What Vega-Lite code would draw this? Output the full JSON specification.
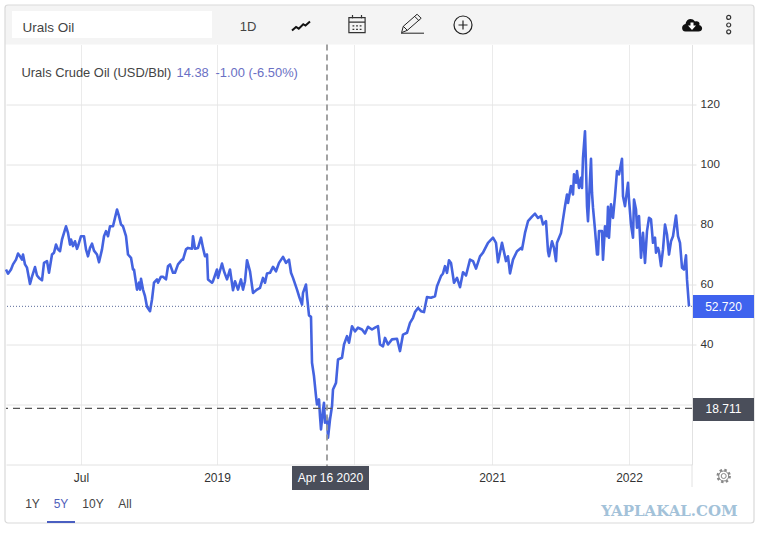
{
"$schema":"https://vega.github.io/schema/vega-lite/v6.json",
"autosize":"none","width":686,"height":420,
"padding":{"left":6,"top":44.5,"right":72,"bottom":75.5},
"background":"white",
"data":{"values":[{"item":"chart furniture"}]},
"config":{"view":{"stroke":null},"text":{"font":"Liberation Sans"},"axis":{"labelFont":"Liberation Sans"}},
"layer":[
{"mark":{"type":"rect","fill":"#f4f4f4"},"encoding":{"x":{"value":-1},"x2":{"value":748},"y":{"value":-39.5},"y2":{"value":0}}},
{"mark":{"type":"rect","fill":"white"},"encoding":{"x":{"value":6},"x2":{"value":206},"y":{"value":-33.5},"y2":{"value":-6.5}}},
{"mark":{"type":"rect","fill":"transparent","stroke":"#d9d9d9","strokeWidth":1.2,"cornerRadius":3},"encoding":{"x":{"value":-1},"x2":{"value":748},"y":{"value":-39.5},"y2":{"value":478.5}}},
{"mark":{"type":"rule","stroke":"#e2e2e2"},"encoding":{"x":{"value":686},"y":{"value":420},"y2":{"value":442.5}}},
{"mark":{"type":"text","text":"Urals Oil","fontSize":13.5,"align":"left","baseline":"middle","fill":"#444"},"encoding":{"x":{"value":16.5},"y":{"value":-17}}},
{"mark":{"type":"text","text":"1D","fontSize":13,"align":"center","baseline":"middle","fill":"#444"},"encoding":{"x":{"value":242},"y":{"value":-18}}},
{"mark":{"type":"point","shape":"M-1,0.5 L-0.55,0.1 L-0.25,0.3 L0.25,-0.2 L0.5,-0.05 L1,-0.5","filled":false,"stroke":"#111","strokeWidth":2,"size":324,"opacity":1},"encoding":{"x":{"value":295},"y":{"value":-18.5}}},
{"mark":{"type":"point","shape":"M-0.9,-0.7 H0.9 V0.95 H-0.9 Z M-0.9,-0.2 H0.9 M-0.5,-1 V-0.6 M0.5,-1 V-0.6 M-0.5,0.2 h0.2 M-0.1,0.2 h0.2 M0.3,0.2 h0.2 M-0.5,0.6 h0.2 M-0.1,0.6 h0.2 M0.3,0.6 h0.2","filled":false,"stroke":"#333","strokeWidth":1.2,"size":324,"opacity":1},"encoding":{"x":{"value":351},"y":{"value":-20.5}}},
{"mark":{"type":"point","shape":"M-1,0.8 H1 M-0.95,0.75 L-0.8,0.2 L0.4,-0.85 L0.75,-0.5 L-0.45,0.55 Z M-0.8,0.2 L-0.45,0.55 M0.2,-0.65 L0.55,-0.3","filled":false,"stroke":"#222","strokeWidth":1,"size":529,"opacity":1},"encoding":{"x":{"value":406.5},"y":{"value":-20.5}}},
{"mark":{"type":"point","shape":"circle","filled":false,"stroke":"#222","strokeWidth":1.2,"size":324,"opacity":1},"encoding":{"x":{"value":457},"y":{"value":-19.5}}},
{"mark":{"type":"point","shape":"M-0.5,0 H0.5 M0,-0.5 V0.5","filled":false,"stroke":"#222","strokeWidth":1.2,"size":324,"opacity":1},"encoding":{"x":{"value":457},"y":{"value":-19.5}}},
{"mark":{"type":"point","shape":"M-0.65,0.65 C-1.1,0.65 -1.1,-0.05 -0.65,-0.1 C-0.6,-0.6 0,-0.8 0.3,-0.35 C0.7,-0.5 0.85,-0.1 0.7,0 C1.15,0.1 1.1,0.65 0.65,0.65 Z","filled":true,"fill":"#111","size":400,"opacity":1},"encoding":{"x":{"value":686},"y":{"value":-19.5}}},
{"mark":{"type":"point","shape":"M-0.15,-0.25 H0.15 V0.05 H0.4 L0,0.5 L-0.4,0.05 H-0.15 Z","filled":true,"fill":"white","size":400,"opacity":1},"encoding":{"x":{"value":686},"y":{"value":-19.5}}},
{"mark":{"type":"point","shape":"M-0.25,-0.95 a0.25,0.25 0 1,0 0.5,0 a0.25,0.25 0 1,0 -0.5,0 Z M-0.25,0 a0.25,0.25 0 1,0 0.5,0 a0.25,0.25 0 1,0 -0.5,0 Z M-0.25,0.85 a0.25,0.25 0 1,0 0.5,0 a0.25,0.25 0 1,0 -0.5,0 Z","filled":false,"stroke":"#333","strokeWidth":1.2,"size":256,"opacity":1},"encoding":{"x":{"value":722.7},"y":{"value":-19.5}}},
{"mark":{"type":"text","text":"Urals Crude Oil (USD/Bbl)","fontSize":12.9,"align":"left","baseline":"middle","fill":"#444"},"encoding":{"x":{"value":15.5},"y":{"value":28.3}}},
{"mark":{"type":"text","text":"14.38","fontSize":12.9,"align":"left","baseline":"middle","fill":"#6a70c4"},"encoding":{"x":{"value":170.5},"y":{"value":28.3}}},
{"mark":{"type":"text","text":"-1.00 (-6.50%)","fontSize":12.9,"align":"left","baseline":"middle","fill":"#6a70c4"},"encoding":{"x":{"value":209.5},"y":{"value":28.3}}},
{"data":{"values":[
{"session":6,"price":65},{"session":8,"price":63.6},{"session":11,"price":65},{"session":13,"price":66.7},{"session":16,"price":68.3},{"session":18,"price":70.3},{"session":20,"price":69.4},{"session":22,"price":68.3},{"session":23,"price":70},{"session":25,"price":66.7},{"session":27,"price":65.6},{"session":30,"price":60.2},{"session":32,"price":62.6},{"session":35,"price":65.8},{"session":37,"price":63},{"session":39,"price":62.2},{"session":42,"price":61.4},{"session":44,"price":67.2},{"session":47,"price":67.8},{"session":49,"price":63.9},{"session":52,"price":70},{"session":54,"price":70.6},{"session":56,"price":73.3},{"session":58,"price":71.7},{"session":60,"price":71.1},{"session":62,"price":75},{"session":64,"price":77.2},{"session":66,"price":79.4},{"session":68,"price":77.2},{"session":70,"price":73.3},{"session":71,"price":75},{"session":73,"price":72.8},{"session":75,"price":74.4},{"session":77,"price":71.9},{"session":78,"price":72.8},{"session":81,"price":76.1},{"session":84,"price":76.1},{"session":86,"price":71.7},{"session":88,"price":69.4},{"session":90,"price":72.2},{"session":92,"price":73.6},{"session":94,"price":71.3},{"session":97,"price":70},{"session":99,"price":67.4},{"session":102,"price":71.7},{"session":104,"price":76.1},{"session":106,"price":77.8},{"session":108,"price":76.1},{"session":110,"price":79.4},{"session":113,"price":79.4},{"session":115,"price":82.2},{"session":117,"price":85},{"session":119,"price":82.8},{"session":121,"price":80},{"session":123,"price":79.4},{"session":126,"price":76.1},{"session":128,"price":70},{"session":131,"price":68.9},{"session":133,"price":65},{"session":134,"price":65},{"session":137,"price":58.3},{"session":139,"price":60.6},{"session":140,"price":58.3},{"session":141,"price":61.9},{"session":143,"price":58.3},{"session":145,"price":56.1},{"session":147,"price":52.6},{"session":150,"price":51.1},{"session":152,"price":55},{"session":154,"price":60.6},{"session":157,"price":61.7},{"session":158,"price":60.6},{"session":161,"price":62.6},{"session":163,"price":62.6},{"session":166,"price":61.7},{"session":168,"price":66.1},{"session":170,"price":66.7},{"session":173,"price":63.9},{"session":175,"price":63.9},{"session":178,"price":66.7},{"session":182,"price":68.3},{"session":183,"price":68.3},{"session":186,"price":71.7},{"session":188,"price":72.2},{"session":192,"price":71.9},{"session":193,"price":76.1},{"session":195,"price":71.9},{"session":198,"price":72.2},{"session":201,"price":75.6},{"session":203,"price":72.2},{"session":205,"price":69.4},{"session":207,"price":70},{"session":208,"price":61.7},{"session":212,"price":60.6},{"session":213,"price":61.1},{"session":217,"price":65},{"session":218,"price":62.2},{"session":222,"price":67},{"session":224,"price":64.4},{"session":227,"price":61.7},{"session":230,"price":65},
{"session":233,"price":58.1},{"session":235,"price":61.1},{"session":238,"price":58.3},{"session":241,"price":61.7},{"session":243,"price":58.3},{"session":245,"price":61.1},{"session":247,"price":68.1},{"session":250,"price":64.4},{"session":253,"price":57.2},{"session":257,"price":58.3},{"session":260,"price":58.9},{"session":263,"price":62.2},{"session":265,"price":60.6},{"session":267,"price":63.7},{"session":270,"price":63.9},{"session":273,"price":65.9},{"session":276,"price":64.4},{"session":279,"price":67.2},{"session":283,"price":69.2},{"session":286,"price":67.2},{"session":289,"price":68.3},{"session":291,"price":63.9},{"session":293,"price":62.2},{"session":297,"price":58.3},{"session":299,"price":56.1},{"session":302,"price":53.3},{"session":303,"price":57.2},{"session":306,"price":60},{"session":307,"price":56.1},{"session":309,"price":49.7},{"session":311,"price":49.2},{"session":312,"price":33.9},{"session":314,"price":29.4},{"session":316,"price":22.8},{"session":317,"price":20},{"session":319,"price":21.7},{"session":320,"price":16.1},{"session":321,"price":11.7},{"session":323,"price":18.3},{"session":324,"price":20.6},{"session":325,"price":13.9},{"session":327,"price":15.6},{"session":328,"price":8.9},{"session":330,"price":15},{"session":332,"price":19.4},{"session":333,"price":25},{"session":336,"price":27.2},{"session":338,"price":35},{"session":342,"price":35.6},{"session":344,"price":40},{"session":347,"price":42.8},{"session":349,"price":40.6},{"session":352,"price":46.1},{"session":355,"price":44.4},{"session":358,"price":45.6},{"session":362,"price":45},{"session":365,"price":43.7},{"session":368,"price":45.9},{"session":372,"price":45},{"session":375,"price":45.6},{"session":378,"price":46.1},{"session":380,"price":40},{"session":383,"price":39.4},{"session":385,"price":42.2},{"session":388,"price":40},{"session":392,"price":41.7},{"session":397,"price":41.9},{"session":400,"price":37.8},{"session":403,"price":43.3},{"session":407,"price":43.9},{"session":410,"price":47.2},
{"session":413,"price":48.9},{"session":415,"price":50.8},{"session":418,"price":52.2},{"session":421,"price":51.1},{"session":424,"price":50.8},{"session":427,"price":55.8},{"session":431,"price":55.6},{"session":435,"price":56.1},{"session":437,"price":59.4},{"session":441,"price":62.8},{"session":443,"price":63.7},{"session":445,"price":66.1},{"session":447,"price":63.9},{"session":449,"price":68.1},{"session":451,"price":67.2},{"session":454,"price":60.6},{"session":457,"price":62.2},{"session":460,"price":59.1},{"session":463,"price":64.1},{"session":466,"price":63},{"session":470,"price":68.3},{"session":473,"price":67.8},{"session":476,"price":65.3},{"session":480,"price":69.4},{"session":483,"price":70.6},{"session":488,"price":73.9},{"session":493,"price":75.6},{"session":496,"price":73.9},{"session":498,"price":67.4},{"session":502,"price":73.9},{"session":506,"price":67.8},{"session":508,"price":69.4},{"session":510,"price":63.7},{"session":513,"price":68.3},{"session":517,"price":71.1},{"session":521,"price":72.2},{"session":522,"price":71.7},{"session":525,"price":77.2},{"session":528,"price":81.1},{"session":532,"price":82.6},{"session":535,"price":83.6},{"session":538,"price":82.2},{"session":541,"price":82.8},{"session":543,"price":80},{"session":546,"price":81.1},{"session":548,"price":71.1},{"session":549,"price":69.4},{"session":552,"price":74.4},{"session":554,"price":72.2},{"session":556,"price":67.8},{"session":557,"price":73.9},{"session":561,"price":77.2},{"session":563,"price":81.7},{"session":565,"price":86.1},
{"session":567,"price":90},{"session":568,"price":87.2},{"session":571,"price":92.8},{"session":573,"price":90},{"session":574,"price":96.7},{"session":576,"price":93.9},{"session":577,"price":97.8},{"session":579,"price":92.2},{"session":581,"price":95.6},{"session":582,"price":92.2},{"session":583,"price":102.2},{"session":585,"price":111.1},{"session":586,"price":99.4},{"session":587,"price":86.1},{"session":588,"price":81.1},{"session":591,"price":101.9},{"session":592,"price":90.6},{"session":593,"price":85.6},{"session":595,"price":78.3},{"session":597,"price":70},{"session":598,"price":70},{"session":599,"price":77.8},{"session":602,"price":77.8},{"session":603,"price":68.3},{"session":605,"price":79.4},{"session":607,"price":76.1},{"session":608,"price":85.9},{"session":609,"price":75.6},{"session":611,"price":86.7},{"session":613,"price":82.2},{"session":615,"price":89.4},{"session":617,"price":97.8},{"session":619,"price":96.7},{"session":622,"price":101.9},{"session":623,"price":89.4},{"session":625,"price":86.1},{"session":628,"price":93.9},{"session":629,"price":88.3},{"session":631,"price":80},{"session":633,"price":75.6},{"session":634,"price":88.3},{"session":636,"price":85},{"session":637,"price":78.9},{"session":639,"price":82.8},{"session":641,"price":68.9},{"session":643,"price":77.2},{"session":645,"price":67.2},{"session":647,"price":77.8},{"session":649,"price":82.2},{"session":651,"price":81.7},{"session":653,"price":73.9},{"session":655,"price":75.6},{"session":656,"price":70.6},{"session":658,"price":72.2},{"session":659,"price":71.1},{"session":661,"price":66.1},{"session":663,"price":71.7},{"session":665,"price":80},{"session":667,"price":76.7},{"session":669,"price":70},{"session":671,"price":74.4},{"session":673,"price":76.1},{"session":676,"price":83},{"session":678,"price":76.1},{"session":680,"price":73.9},{"session":682,"price":65.6},{"session":684,"price":65},{"session":686,"price":69.7},{"session":687,"price":61.7},{"session":689,"price":52.72}
]},
"mark":{"type":"line","stroke":"#4463e0","strokeWidth":2.6,"strokeJoin":"round"},
"encoding":{
"x":{"field":"session","type":"quantitative","scale":{"domain":[6,692],"nice":false,"zero":false},
"axis":{"title":null,"values":[81,217,354,492,629],"labelExpr":"datum.value==81?'Jul':datum.value==217?'2019':datum.value==354?'':datum.value==492?'2021':'2022'","grid":true,"gridColor":"#ebebeb","tickSize":0,"domainColor":"#e2e2e2","labelColor":"#333","labelFontSize":12,"labelPadding":8,"orient":"bottom"}},
"y":{"field":"price","type":"quantitative","scale":{"domain":[0,140],"nice":false,"zero":false},
"axis":{"title":null,"values":[20,40,60,80,100,120],"labelExpr":"datum.value==20?'':datum.label","grid":true,"gridColor":"#e4e4e4","tickSize":4,"tickColor":"#e2e2e2","domainColor":"#e2e2e2","labelColor":"#333","labelFontSize":11.6,"labelPadding":4,"orient":"right"}}
}},
{"mark":{"type":"rule","stroke":"#5b6a9a","strokeWidth":1,"strokeDash":[1,2]},"encoding":{"y":{"datum":52.72,"type":"quantitative"}}},
{"mark":{"type":"rule","stroke":"#555","strokeWidth":1.2,"strokeDash":[7,5]},"encoding":{"y":{"datum":18.711,"type":"quantitative"}}},
{"mark":{"type":"rule","stroke":"#999","strokeWidth":1.8,"strokeDash":[6,4]},"encoding":{"x":{"datum":327,"type":"quantitative"},"y":{"value":0},"y2":{"value":445.5}}},
{"mark":{"type":"rect","fill":"#3f63ee"},"encoding":{"x":{"value":687},"x2":{"value":748},"y":{"value":250.5},"y2":{"value":273.5}}},
{"mark":{"type":"text","text":"52.720","fontSize":12,"align":"center","baseline":"middle","fill":"white"},"encoding":{"x":{"value":717.5},"y":{"value":262}}},
{"mark":{"type":"rect","fill":"#4a4e5a"},"encoding":{"x":{"value":687},"x2":{"value":748},"y":{"value":353.5},"y2":{"value":376.5}}},
{"mark":{"type":"text","text":"18.711","fontSize":12,"align":"center","baseline":"middle","fill":"white"},"encoding":{"x":{"value":717.5},"y":{"value":364.8}}},
{"mark":{"type":"rect","fill":"#4a4e5a"},"encoding":{"x":{"value":286},"x2":{"value":363},"y":{"value":421.5},"y2":{"value":445.5}}},
{"mark":{"type":"text","text":"Apr 16 2020","fontSize":12,"align":"center","baseline":"middle","fill":"white"},"encoding":{"x":{"value":324.5},"y":{"value":433.3}}},
{"mark":{"type":"point","shape":"circle","filled":false,"stroke":"#888","strokeWidth":2.4,"strokeDash":[2.4,2.3],"size":144,"opacity":1},"encoding":{"x":{"value":717.7},"y":{"value":431.5}}},
{"mark":{"type":"point","shape":"circle","filled":false,"stroke":"#888","strokeWidth":1,"size":100,"opacity":1},"encoding":{"x":{"value":717.7},"y":{"value":431.5}}},
{"mark":{"type":"point","shape":"circle","filled":false,"stroke":"#888","strokeWidth":1,"size":25,"opacity":1},"encoding":{"x":{"value":717.7},"y":{"value":431.5}}},
{"mark":{"type":"text","text":"1Y","fontSize":12,"align":"center","baseline":"middle","fill":"#444"},"encoding":{"x":{"value":26.5},"y":{"value":459.5}}},
{"mark":{"type":"text","text":"5Y","fontSize":12,"align":"center","baseline":"middle","fill":"#5060bb"},"encoding":{"x":{"value":55},"y":{"value":459.5}}},
{"mark":{"type":"text","text":"10Y","fontSize":12,"align":"center","baseline":"middle","fill":"#444"},"encoding":{"x":{"value":87},"y":{"value":459.5}}},
{"mark":{"type":"text","text":"All","fontSize":12,"align":"center","baseline":"middle","fill":"#444"},"encoding":{"x":{"value":119},"y":{"value":459.5}}},
{"mark":{"type":"rect","fill":"#4a5fc1"},"encoding":{"x":{"value":41},"x2":{"value":69},"y":{"value":476.5},"y2":{"value":478.5}}},
{"mark":{"type":"text","text":"YAPLAKAL.COM","font":"DejaVu Serif","fontWeight":"bold","fontSize":15,"align":"center","baseline":"middle","fill":"#a3c2d9"},"encoding":{"x":{"value":663.5},"y":{"value":466.5}}}
]
}
